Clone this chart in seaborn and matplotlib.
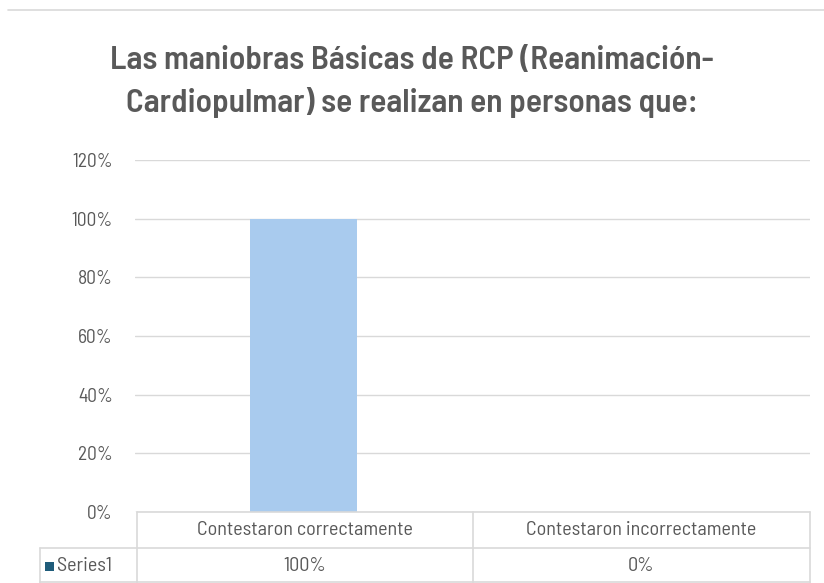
import matplotlib
matplotlib.use("Agg")
import matplotlib.pyplot as plt
import matplotlib.lines as mlines
import matplotlib.patches as mpatches
import seaborn as sns
import pandas as pd

# data
categories = ["Contestaron correctamente", "Contestaron incorrectamente"]
values = [1.00, 0.00]
series_name = "Series1"
title = "Las maniobras Básicas de RCP (Reanimación-\nCardiopulmar) se realizan en personas que:"

sns.set_theme(style="white")
plt.rcParams["font.family"] = ["Barlow Semi Condensed", "DejaVu Sans"]

grey = "#595959"
line_c = "#d9d9d9"

df = pd.DataFrame({"cat": categories, "val": values})

fig = plt.figure(figsize=(8.24, 5.83), dpi=100)
ax = fig.add_axes([135 / 824, 1 - 512 / 583, 675 / 824, 352 / 583])

sns.barplot(data=df, x="cat", y="val", color="#a9cbee", width=0.317,
            saturation=1, linewidth=0, ax=ax)

ax.set_ylim(0, 1.2)
ax.set_yticks([0, 0.2, 0.4, 0.6, 0.8, 1.0, 1.2])
ax.set_yticklabels([f"{int(round(t * 100))}%" for t in ax.get_yticks()],
                   color=grey, fontsize=14)
ax.tick_params(axis="y", length=0, pad=16)
ax.yaxis.grid(True, color=line_c, linewidth=1)
ax.set_axisbelow(True)
ax.set_xticks([])
ax.set_xlabel("")
ax.set_ylabel("")
for s in ax.spines.values():
    s.set_visible(False)

# data table under the plot (figure pixel coords)
W, H = 824, 583
def fx(x):
    return x / W
def fy(y):
    return 1 - y / H

def hline(x0, x1, y):
    fig.add_artist(mlines.Line2D([fx(x0), fx(x1)], [fy(y), fy(y)],
                                 color=line_c, linewidth=1.2))
def vline(x, y0, y1):
    fig.add_artist(mlines.Line2D([fx(x), fx(x)], [fy(y0), fy(y1)],
                                 color=line_c, linewidth=1.2))

hline(137, 810, 512)
hline(40, 810, 548)
hline(40, 810, 582)
for x in (137, 473, 810):
    vline(x, 512, 583)
vline(40, 548, 583)

col_x = [305, 641]
for cx, cat, v in zip(col_x, categories, values):
    fig.text(fx(cx), fy(530), cat, ha="center", va="center", color=grey, fontsize=14.5)
    fig.text(fx(cx), fy(566), f"{int(round(v * 100))}%", ha="center", va="center",
             color=grey, fontsize=14.5)

# legend key for the series row
fig.add_artist(mpatches.Rectangle((fx(45), fy(571)), 9 / W, 9 / H,
                                  facecolor="#1f5c7a", edgecolor="none"))
fig.text(fx(57), fy(566), series_name, ha="left", va="center", color=grey, fontsize=14.5)

# top border strip
hline(8, 824, 10)

fig.text(0.5, fy(82), title, ha="center", va="center", color=grey,
         fontsize=24, fontweight="semibold", linespacing=1.45)

fig.savefig("out.png", dpi=100)
